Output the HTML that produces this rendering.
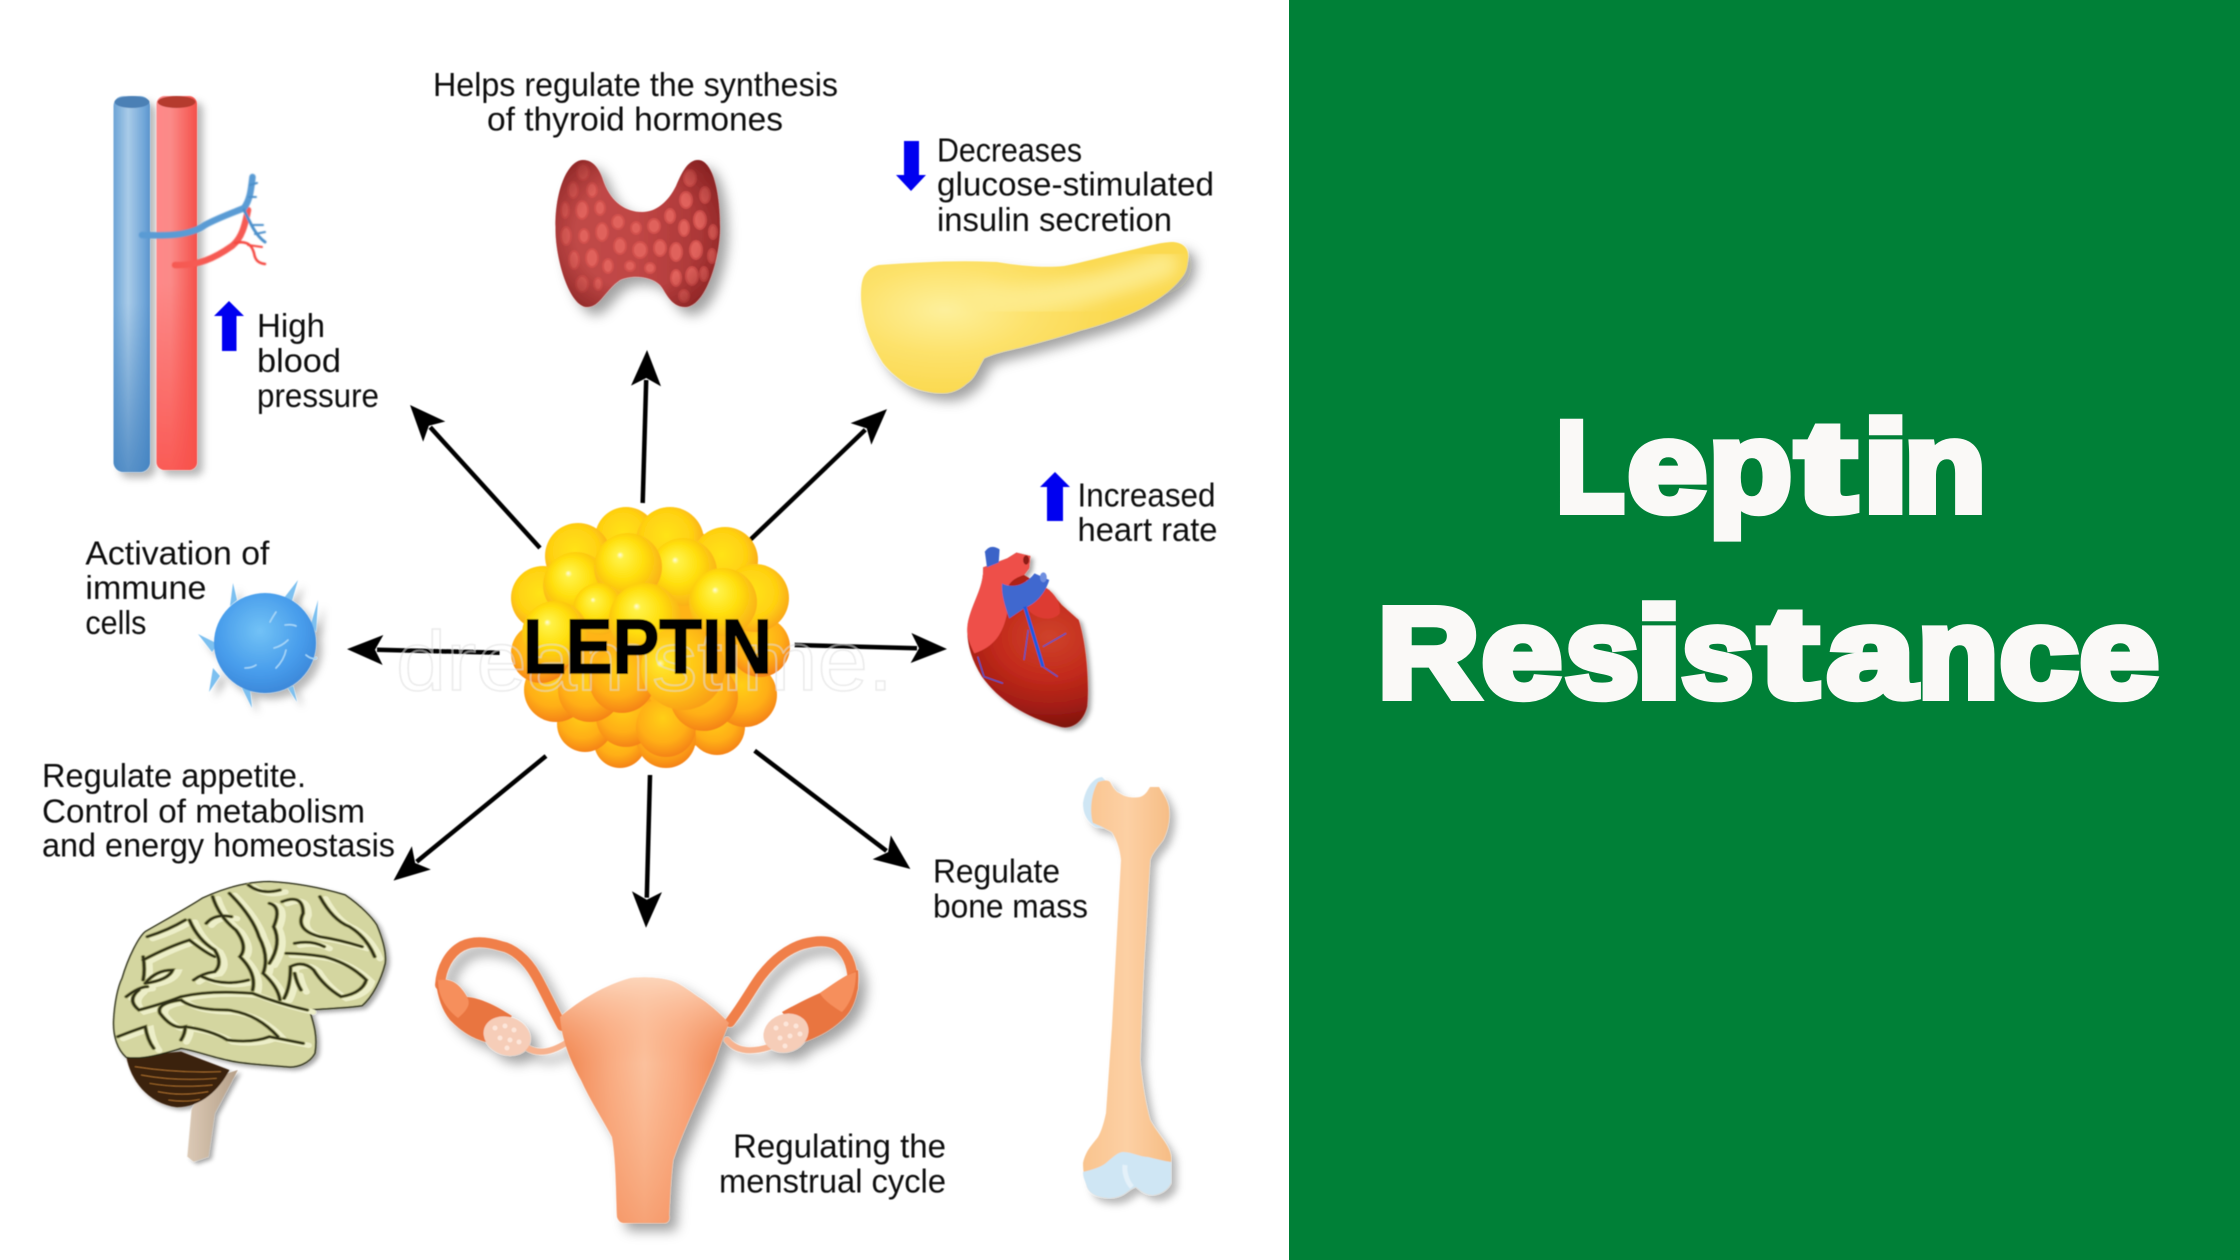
<!DOCTYPE html>
<html lang="en">
<head>
<meta charset="utf-8">
<title>Leptin Resistance</title>
<style>
html,body{margin:0;padding:0;background:#fff;width:2240px;height:1260px;overflow:hidden}
svg{display:block}
.t{font-family:"Liberation Sans",sans-serif;font-size:33px;fill:#111}
.h{font-family:"Liberation Sans",sans-serif;font-weight:700;font-size:128px;fill:#faf9f7;stroke:#faf9f7;stroke-width:8px;stroke-linejoin:miter}
</style>
</head>
<body>
<svg xmlns="http://www.w3.org/2000/svg" width="2240" height="1260" viewBox="0 0 2240 1260">
<defs>
  <filter id="all" filterUnits="userSpaceOnUse" x="0" y="0" width="1289" height="1260"><feGaussianBlur stdDeviation=".55"/></filter>
  <filter id="sh" x="-30%" y="-30%" width="170%" height="170%"><feDropShadow dx="8" dy="8" stdDeviation="6" flood-color="#000" flood-opacity=".36"/></filter>
  <filter id="shs" x="-30%" y="-30%" width="170%" height="170%"><feDropShadow dx="6" dy="6" stdDeviation="4" flood-color="#000" flood-opacity=".28"/></filter>
  <filter id="soft"><feGaussianBlur stdDeviation=".6"/></filter>
  <filter id="soft3" x="-30%" y="-30%" width="160%" height="160%"><feGaussianBlur stdDeviation="8"/></filter>
  <linearGradient id="vb" x1="0" x2="1" y1="0" y2="0"><stop offset="0" stop-color="#6ba3d6"/><stop offset=".4" stop-color="#a9cbe8"/><stop offset=".85" stop-color="#6fa5d8"/><stop offset="1" stop-color="#5b94cc"/></linearGradient>
  <linearGradient id="vbd" x1="0" x2="0" y1="0" y2="1"><stop offset=".55" stop-color="#3f7fbe" stop-opacity="0"/><stop offset="1" stop-color="#3f7fbe" stop-opacity=".75"/></linearGradient>
  <linearGradient id="vr" x1="0" x2="1" y1="0" y2="0"><stop offset="0" stop-color="#f88"/><stop offset=".35" stop-color="#fb8a88"/><stop offset=".85" stop-color="#f65e58"/><stop offset="1" stop-color="#f4504a"/></linearGradient>
  <linearGradient id="vrd" x1="0" x2="0" y1="0" y2="1"><stop offset=".5" stop-color="#f9504a" stop-opacity="0"/><stop offset="1" stop-color="#f9504a" stop-opacity=".8"/></linearGradient>
  <radialGradient id="gy" cx=".47" cy=".44" r=".6" fx=".38" fy=".32"><stop offset="0" stop-color="#fffce0"/><stop offset=".09" stop-color="#fff247"/><stop offset=".5" stop-color="#ffdf0e"/><stop offset="1" stop-color="#f9ab16"/></radialGradient>
  <radialGradient id="gy2" cx=".45" cy=".42" r=".62"><stop offset="0" stop-color="#ffe317"/><stop offset=".6" stop-color="#ffd111"/><stop offset="1" stop-color="#f9a116"/></radialGradient>
  <radialGradient id="go" cx=".45" cy=".35" r=".68"><stop offset="0" stop-color="#ffcf18"/><stop offset=".6" stop-color="#ffae14"/><stop offset="1" stop-color="#f47e18"/></radialGradient>
  <radialGradient id="gc" cx=".4" cy=".4" r=".62" fx=".22" fy=".45"><stop offset="0" stop-color="#fffbd0"/><stop offset=".08" stop-color="#ffe42a"/><stop offset=".6" stop-color="#ffc314"/><stop offset="1" stop-color="#f9a016"/></radialGradient>
  <radialGradient id="cell" cx=".45" cy=".38" r=".65"><stop offset="0" stop-color="#72c2f6"/><stop offset=".65" stop-color="#479ceb"/><stop offset="1" stop-color="#3b86d8"/></radialGradient>
  <radialGradient id="thyr" cx=".5" cy=".5" r=".62"><stop offset=".6" stop-color="#8a2020" stop-opacity="0"/><stop offset="1" stop-color="#7a1a1a" stop-opacity=".7"/></radialGradient>
  <linearGradient id="thyb" x1="0" x2="1" y1="0" y2="0"><stop offset="0" stop-color="#c04a48"/><stop offset=".5" stop-color="#c04645"/><stop offset="1" stop-color="#a53333"/></linearGradient>
  <radialGradient id="pan" gradientUnits="userSpaceOnUse" cx="945" cy="310" r="170" gradientTransform="translate(0 155) scale(1 .5)"><stop offset="0" stop-color="#fdf09c"/><stop offset=".5" stop-color="#fde26c"/><stop offset="1" stop-color="#fbd94f"/></radialGradient>
  <linearGradient id="ut" x1="0" x2="1" y1="0" y2="0"><stop offset="0" stop-color="#ee7f48"/><stop offset=".3" stop-color="#f9ae85"/><stop offset=".5" stop-color="#fbc7a5"/><stop offset=".72" stop-color="#f9ab82"/><stop offset="1" stop-color="#ec7a44"/></linearGradient>
  <linearGradient id="utv" x1="0" x2="0" y1="0" y2="1"><stop offset="0" stop-color="#fdd5ba"/><stop offset=".35" stop-color="#f99e6e" stop-opacity=".15"/><stop offset="1" stop-color="#f4854f" stop-opacity=".55"/></linearGradient>
  <radialGradient id="hrt" gradientUnits="userSpaceOnUse" cx="1400" cy="470" r="280"><stop offset="0" stop-color="#cf432b"/><stop offset=".45" stop-color="#c22a1b"/><stop offset=".75" stop-color="#a41e15"/><stop offset="1" stop-color="#7a110c"/></radialGradient>
  <linearGradient id="bone" x1="0" x2="1" y1="0" y2="0"><stop offset="0" stop-color="#f9c48e"/><stop offset=".5" stop-color="#fdd0a4"/><stop offset="1" stop-color="#f6bd85"/></linearGradient>
  <linearGradient id="stem" x1="0" x2="1" y1="0" y2="0"><stop offset="0" stop-color="#dccab6"/><stop offset="1" stop-color="#b59f88"/></linearGradient>
  <marker id="ah" markerUnits="userSpaceOnUse" viewBox="-2 -16 42 32" markerWidth="42" markerHeight="32" refX="6" refY="0" orient="auto"><path d="M0,-15 L36,0 L0,15 L8,0 Z" fill="#000"/></marker>
  <clipPath id="thc"><path d="M583,160 C594,160 600,170 604,183 C612,203 626,212 642,212 C656,212 668,202 676,186 C682,172 688,160 698,160 C712,160 720,190 720,227 C720,260 705,307 685,307 C670,307 665,290 660,285 C650,275 630,275 620,280 C605,290 600,307 587,307 C570,307 555,260 555.5,227 C555,190 568,160 583,160Z"/></clipPath>
  <g id="sulci">
    <path d="M505,170 Q520,230 560,270 Q590,320 570,350 Q610,400 600,450"/>
    <path d="M545,160 Q600,230 615,290 Q640,350 625,400 Q660,440 665,480"/>
    <path d="M450,240 Q470,300 510,330 Q530,370 510,395 Q480,400 460,420"/>
    <path d="M640,190 Q670,200 650,260 Q670,310 640,370"/>
    <path d="M670,185 Q720,160 720,220 Q700,270 760,290 Q810,300 860,320"/>
    <path d="M760,170 Q790,240 830,260 Q870,290 890,350"/>
    <path d="M680,340 Q720,340 770,350 Q830,370 870,420 Q860,460 810,470 Q770,440 745,390 Q720,360 690,380 Q690,440 675,475"/>
    <path d="M340,360 Q400,320 450,300 Q490,340 510,350"/>
    <path d="M350,290 Q400,270 440,240"/>
    <path d="M430,470 Q500,450 600,460 Q660,490 730,510"/>
    <path d="M330,450 Q300,480 330,510 Q390,490 430,470"/>
    <path d="M430,480 Q460,510 540,510 Q610,520 660,590"/>
    <path d="M440,560 Q500,570 540,600 Q600,610 640,590 Q680,600 720,610"/>
    <path d="M280,590 Q320,570 345,560 Q350,600 365,625"/>
    <path d="M345,430 Q370,390 410,390 Q400,420 345,430"/>
    <path d="M430,600 Q440,580 440,560 Q410,570 380,520 Q370,490 430,480"/>
    <path d="M590,135 Q620,165 665,150"/>
    <path d="M340,350 Q345,390 340,420 M300,470 Q330,440 350,440"/>
    <path d="M700,310 Q740,300 770,320 M700,400 Q705,430 715,450"/>
    <path d="M550,230 Q510,220 490,250"/>
    <path d="M480,410 Q530,440 590,420"/>
  </g>
</defs>

<rect width="2240" height="1260" fill="#fff"/>
<rect x="1289" y="0" width="951" height="1260" fill="#008037"/>

<g filter="url(#all)">
<!-- vessels -->
<g filter="url(#shs)">
  <rect x="113.5" y="96" width="36.5" height="376" rx="10" fill="url(#vb)"/>
  <rect x="113.5" y="96" width="36.5" height="376" rx="10" fill="url(#vbd)"/>
  <rect x="156.5" y="96" width="40.5" height="374" rx="8" fill="url(#vr)"/>
  <rect x="156.5" y="96" width="40.5" height="374" rx="8" fill="url(#vrd)"/>
</g>
<ellipse cx="132" cy="102" rx="17.5" ry="6" fill="#4c80b5"/>
<ellipse cx="176.5" cy="102" rx="19" ry="6" fill="#b53a2f"/>
<g fill="none" stroke-linecap="round" filter="url(#soft)">
  <path d="M175,265 C198,266 215,258 232,246 C242,238 245,225 248,210" stroke="#f65a52" stroke-width="6.5"/>
  <path d="M235,243 C248,240 252,246 254,253 C255,260 258,263 265,264" stroke="#f4473f" stroke-width="2.5"/>
  <path d="M248,245 L262,247" stroke="#f4473f" stroke-width="2"/>
  <path d="M142,235 C165,236 190,236 205,225 C220,217 235,212 244,208 C250,200 251,190 252.5,177" stroke="#5a9bd4" stroke-width="6.5"/>
  <path d="M244,210 C250,222 255,235 265,242" stroke="#4c8fca" stroke-width="3"/>
  <path d="M250,185 L257,183 M249,197 L256,197 M252,225 L263,225 M255,234 L265,232" stroke="#4c8fca" stroke-width="2"/>
</g>
<path d="M229,301 L244,316 L236.5,316 L236.5,351 L222,351 L222,316 L214,316 Z" fill="#0000f0"/>

<!-- thyroid -->
<path d="M583,160 C594,160 600,170 604,183 C612,203 626,212 642,212 C656,212 668,202 676,186 C682,172 688,160 698,160 C712,160 720,190 720,227 C720,260 705,307 685,307 C670,307 665,290 660,285 C650,275 630,275 620,280 C605,290 600,307 587,307 C570,307 555,260 555.5,227 C555,190 568,160 583,160Z" fill="url(#thyb)" filter="url(#sh)"/>
<g clip-path="url(#thc)" fill="#e0625c" stroke="#d2514e" stroke-width="2">
  <ellipse cx="583" cy="172" rx="6" ry="8"/><ellipse cx="573" cy="190" rx="5" ry="8"/><ellipse cx="592" cy="190" rx="5" ry="7"/><ellipse cx="565" cy="210" rx="4" ry="8"/>
  <ellipse cx="582" cy="210" rx="6" ry="9"/><ellipse cx="600" cy="208" rx="5" ry="7"/><ellipse cx="618" cy="222" rx="6" ry="7"/><ellipse cx="636" cy="228" rx="5" ry="6"/>
  <ellipse cx="654" cy="226" rx="6" ry="7"/><ellipse cx="670" cy="216" rx="5" ry="7"/><ellipse cx="690" cy="178" rx="6" ry="8"/><ellipse cx="705" cy="195" rx="5" ry="8"/>
  <ellipse cx="686" cy="200" rx="6" ry="8"/><ellipse cx="700" cy="220" rx="6" ry="9"/><ellipse cx="684" cy="228" rx="5" ry="8"/><ellipse cx="713" cy="232" rx="4" ry="7"/>
  <ellipse cx="566" cy="236" rx="5" ry="9"/><ellipse cx="584" cy="236" rx="5" ry="7"/><ellipse cx="602" cy="232" rx="6" ry="9"/><ellipse cx="620" cy="246" rx="6" ry="8"/>
  <ellipse cx="640" cy="250" rx="7" ry="8"/><ellipse cx="660" cy="248" rx="6" ry="8"/><ellipse cx="676" cy="252" rx="6" ry="9"/><ellipse cx="696" cy="250" rx="6" ry="9"/>
  <ellipse cx="712" cy="256" rx="4" ry="7"/><ellipse cx="574" cy="260" rx="5" ry="9"/><ellipse cx="592" cy="258" rx="6" ry="9"/><ellipse cx="608" cy="266" rx="5" ry="7"/>
  <ellipse cx="582" cy="284" rx="6" ry="8"/><ellipse cx="598" cy="284" rx="4" ry="6"/><ellipse cx="676" cy="278" rx="5" ry="8"/><ellipse cx="692" cy="276" rx="6" ry="9"/>
  <ellipse cx="684" cy="296" rx="5" ry="6"/><ellipse cx="704" cy="274" rx="4" ry="7"/><ellipse cx="630" cy="266" rx="5" ry="5"/><ellipse cx="650" cy="268" rx="5" ry="5"/>
</g>
<path d="M583,160 C594,160 600,170 604,183 C612,203 626,212 642,212 C656,212 668,202 676,186 C682,172 688,160 698,160 C712,160 720,190 720,227 C720,260 705,307 685,307 C670,307 665,290 660,285 C650,275 630,275 620,280 C605,290 600,307 587,307 C570,307 555,260 555.5,227 C555,190 568,160 583,160Z" fill="url(#thyr)"/>

<!-- pancreas -->
<path d="M879,265 C920,262 960,260 997,262 C1020,266 1045,268 1064,266 C1085,262 1105,256 1123,252 C1145,247 1160,242 1173.5,242 C1183,243 1189,248 1188,258 C1187,268 1186,272 1182,277 C1172,290 1160,298 1144,307 C1125,317 1100,325 1081,330 C1060,337 1040,342 1022,347 C1005,351 995,353 984,358 C978,368 975,378 967,383 C958,391 950,393 942,393 C930,393 918,390 908,385 C898,378 890,372 883,363 C875,350 870,340 866,327 C863,315 861,305 861,297 C861,285 862,278 866,273 C870,268 874,266 879,265Z" fill="url(#pan)" filter="url(#sh)"/>
<path d="M980,300 Q1060,305 1165,265" stroke="#fdeb8c" stroke-width="26" fill="none" stroke-linecap="round" filter="url(#soft3)"/>
<path d="M904,141 H919 V175 H926 L911,191 L896,175 H904 Z" fill="#0000f0"/>

<!-- heart -->
<g transform="translate(460 480) scale(.4209 .3333)">
  <g filter="url(#sh)">
    <path d="M1243,262 L1300,235 L1322,218 L1355,228 L1352,265 L1340,285 L1400,330 L1430,375 L1470,420 C1490,500 1495,620 1490,680 C1480,730 1450,750 1425,740 C1340,710 1280,660 1240,590 C1210,530 1200,470 1208,420 C1220,360 1245,320 1243,262Z" fill="url(#hrt)"/>
  </g>
  <path d="M1243,262 L1300,235 L1322,218 L1355,228 L1352,265 L1340,285 C1300,300 1290,330 1300,400 C1290,460 1270,500 1222,520 C1210,490 1200,460 1208,420 C1220,360 1245,320 1243,262Z" fill="#ee5048"/>
  <path d="M1345,300 C1390,310 1430,350 1425,400 C1410,425 1370,420 1350,390Z" fill="#dd3b30"/>
  <path d="M1247,215 Q1260,190 1282,208 L1280,248 L1252,262 Z" fill="#3a63c8"/>
  <path d="M1288,310 C1310,325 1340,320 1365,280 L1400,300 C1390,340 1370,370 1340,385 L1305,415 C1295,380 1285,340 1288,310Z" fill="#3f68cf"/>
  <ellipse cx="1345" cy="240" rx="7" ry="14" fill="#8c1a14"/>
  <ellipse cx="1386" cy="292" rx="8" ry="15" fill="#6f8fe0"/>
  <path d="M1342,380 L1385,560" stroke="#1f5ae0" stroke-width="3.5" fill="none" vector-effect="non-scaling-stroke"/>
  <path d="M1350,450 L1340,540 M1385,560 L1420,590 M1385,500 L1440,460 M1230,530 L1245,590 L1290,610" stroke="#3a5ad0" stroke-width="1.2" fill="none" vector-effect="non-scaling-stroke"/>
</g>
<path d="M1055,472 L1070,487 H1063 V521 H1047 V487 H1040 Z" fill="#0000f0"/>

<!-- immune cell -->
<g filter="url(#shs)">
  <g fill="#7cc0f0">
    <polygon points="230,606 233,583 237,600"/><polygon points="284,598 298,580 291,604"/>
    <polygon points="311,624 318,600 316,632"/><polygon points="212,652 198,634 218,644"/>
    <polygon points="213,668 209,692 220,676"/><polygon points="242,688 252,708 250,690"/>
    <polygon points="288,688 297,702 293,686"/>
  </g>
  <ellipse cx="265" cy="643" rx="51" ry="50" fill="url(#cell)"/>
</g>
<path d="M276,612 Q272,618 270,622 M285,625 Q292,624 296,626 M276,668 Q284,660 286,650 M274,648 Q282,646 288,640 M306,655 Q312,660 316,658 M245,668 Q252,668 256,665" stroke="#a5d6f8" stroke-width="1.6" fill="none" stroke-linecap="round"/>

<!-- arrows -->
<g stroke="#000" stroke-width="4.5" fill="none">
  <path d="M540,548 L430.2,427.2" marker-end="url(#ah)"/>
  <path d="M642.7,503 L646.2,380" marker-end="url(#ah)"/>
  <path d="M748,542 L865.3,429.8" marker-end="url(#ah)"/>
  <path d="M499.6,652.7 L377,649.8" marker-end="url(#ah)"/>
  <path d="M794.6,645 L917,648.2" marker-end="url(#ah)"/>
  <path d="M546,756 L416.7,861.7" marker-end="url(#ah)"/>
  <path d="M650,775 L646.8,897.7" marker-end="url(#ah)"/>
  <path d="M754.6,750.7 L886.5,850.9" marker-end="url(#ah)"/>
</g>

<!-- leptin cluster -->
<g>
  <ellipse cx="650" cy="638" rx="122" ry="116" fill="#ffb414"/>
  <circle cx="620" cy="742" r="26" fill="url(#go)"/>
  <circle cx="717" cy="727" r="28" fill="url(#go)"/>
  <circle cx="585" cy="724" r="28" fill="url(#go)"/>
  <circle cx="666" cy="738" r="30" fill="url(#go)"/>
  <circle cx="556" cy="690" r="32" fill="url(#go)"/>
  <circle cx="745" cy="695" r="32" fill="url(#go)"/>
  <circle cx="626" cy="717" r="30" fill="url(#go)"/>
  <circle cx="666" cy="727" r="30" fill="url(#go)"/>
  <circle cx="590" cy="690" r="32" fill="url(#go)"/>
  <circle cx="704" cy="697" r="34" fill="url(#go)"/>
  <circle cx="541" cy="653" r="30" fill="url(#go)"/>
  <circle cx="760" cy="647" r="30" fill="url(#go)"/>
  <circle cx="622" cy="680" r="33" fill="url(#go)"/>
  <circle cx="626" cy="538" r="31" fill="url(#gy2)"/>
  <circle cx="670" cy="541" r="34" fill="url(#gy2)"/>
  <circle cx="578" cy="556" r="33" fill="url(#gy2)"/>
  <circle cx="725" cy="560" r="33" fill="url(#gy2)"/>
  <circle cx="543" cy="598" r="32" fill="url(#gy2)"/>
  <circle cx="755" cy="598" r="34" fill="url(#gy2)"/>
  <circle cx="576" cy="585" r="33" fill="url(#gy)"/>
  <circle cx="683" cy="572" r="34" fill="url(#gy)"/>
  <circle cx="628" cy="567" r="34" fill="url(#gy)"/>
  <circle cx="599" cy="609" r="26" fill="url(#gy)"/>
  <circle cx="723" cy="602" r="34" fill="url(#gy)"/>
  <circle cx="645" cy="619" r="36" fill="url(#gy)"/>
  <circle cx="555" cy="634" r="33" fill="url(#gy)"/>
  <circle cx="683" cy="668" r="42" fill="url(#gc)"/>
</g>
<text x="396" y="690" textLength="497" lengthAdjust="spacingAndGlyphs" style="font-family:'Liberation Sans',sans-serif;font-size:84px;fill:none;stroke:#dedede;stroke-width:1.5px;opacity:.6">dreamstime.</text>
<text x="523" y="673" textLength="249" lengthAdjust="spacingAndGlyphs" style="font-family:'Liberation Sans',sans-serif;font-weight:700;font-size:77px;fill:#000;stroke:#000;stroke-width:1.5px">LEPTIN</text>

<!-- brain -->
<g transform="translate(0 840) scale(.4209 .3333)">
  <g filter="url(#sh)">
    <path d="M565,690 L510,820 L495,950 L460,965 L445,950 L455,810 L490,720Z" fill="url(#stem)"/>
    <path d="M300,650 L430,635 L545,690 C520,750 480,800 420,802 C350,790 310,720 300,650Z" fill="#3a200c"/>
    <path d="M270,540 C272,490 280,440 290,415 C305,350 330,290 345,275 C400,235 450,200 480,175 C540,140 590,125 640,125 C720,130 780,150 820,165 C860,200 885,235 895,255 C910,300 918,340 915,370 C905,420 885,470 860,497 C820,505 770,505 735,510 C745,550 755,590 748,640 C735,670 705,685 680,680 C630,675 570,670 540,660 C500,650 460,630 430,625 C390,640 340,660 300,652 C280,630 268,590 270,540Z" fill="#d4d6a0" stroke="#2c2e14" stroke-width="1.5" vector-effect="non-scaling-stroke"/>
  </g>
  <g fill="none" stroke="#eceec8" stroke-width="16" stroke-linecap="round" transform="translate(13 6)"><use href="#sulci"/></g>
  <g fill="none" stroke="#9a9c62" stroke-width="11" stroke-linecap="round"><use href="#sulci"/></g>
  <g fill="none" stroke="#2d2f14" stroke-width="6.5" stroke-linecap="round"><use href="#sulci"/></g>
  <g fill="none" stroke="#a56a2c" stroke-width="3">
    <path d="M320,680 Q420,700 525,695"/><path d="M335,705 Q420,725 515,715"/><path d="M355,730 Q420,745 505,735"/><path d="M375,755 Q430,770 495,755"/><path d="M400,780 Q440,788 475,778"/>
  </g>
</g>

<!-- uterus -->
<g filter="url(#sh)">
  <g fill="none" stroke-linecap="round">
    <path d="M562,1026 C550,1004 544,990 536,976 C526,958 512,948 501,946 C485,941 472,941 462,946 C449,953 441,968 440,985" stroke="#f07f48" stroke-width="10"/>
    <path d="M730,1022 C745,1002 752,988 761,976 C775,958 790,948 803,944 C818,940 830,940 838,946 C850,956 853,970 853,988" stroke="#f07f48" stroke-width="10"/>
    <path d="M526,1047 Q542,1058 566,1043" stroke="#f7b28e" stroke-width="6"/>
    <path d="M727,1040 Q740,1056 769,1047" stroke="#f7b28e" stroke-width="6"/>
  </g>
  <path d="M436,983 C438,998 442,1010 450,1020 C462,1032 472,1038 486,1042 L512,1016 C495,1005 480,998 467,997 C460,985 452,978 438,980Z" fill="#e9743f"/>
  <path d="M858,970 C860,995 852,1010 845,1017 C832,1030 820,1036 804,1042 L782,1012 C795,1005 808,998 820,993 C832,985 845,975 858,970Z" fill="#e9743f"/>
  <ellipse cx="507" cy="1036" rx="24" ry="19" fill="#f6cdb8" transform="rotate(20 507 1036)"/>
  <ellipse cx="786" cy="1033" rx="23" ry="19" fill="#f6cdb8" transform="rotate(-20 786 1033)"/>
  <path d="M631,978 C605,985 580,1000 560,1017 C562,1040 570,1060 581,1080 C590,1100 603,1120 612,1137 C616,1160 616,1195 617,1217 C619,1222 621,1223 625,1223 L664,1223 C668,1223 670,1220 669,1215 C670,1195 671,1175 673,1160 C685,1125 705,1085 715,1060 C720,1045 725,1032 729,1023 C718,1012 708,1003 698,997 C688,990 678,982 668,980 C655,977 643,977 631,978Z" fill="url(#ut)"/>
</g>
<path d="M631,978 C605,985 580,1000 560,1017 C562,1040 570,1060 581,1080 C590,1100 603,1120 612,1137 C616,1160 616,1195 617,1217 C619,1222 621,1223 625,1223 L664,1223 C668,1223 670,1220 669,1215 C670,1195 671,1175 673,1160 C685,1125 705,1085 715,1060 C720,1045 725,1032 729,1023 C718,1012 708,1003 698,997 C688,990 678,982 668,980 C655,977 643,977 631,978Z" fill="url(#utv)"/>
<path d="M438,980 C452,978 460,985 467,997 C472,1005 465,1012 458,1018 C445,1008 438,995 438,980Z" fill="#f68f5c"/>
<path d="M856,972 C856,990 850,1004 842,1012 C830,1005 822,998 820,993 C832,985 845,975 856,972Z" fill="#f68f5c"/>
<g fill="#fde6da">
  <circle cx="495" cy="1028" r="2.5"/><circle cx="505" cy="1026" r="2.5"/><circle cx="514" cy="1030" r="2.5"/><circle cx="500" cy="1038" r="2.5"/><circle cx="510" cy="1040" r="2.5"/><circle cx="519" cy="1042" r="2.5"/><circle cx="507" cy="1048" r="2.5"/>
  <circle cx="776" cy="1028" r="2.5"/><circle cx="786" cy="1024" r="2.5"/><circle cx="796" cy="1026" r="2.5"/><circle cx="780" cy="1038" r="2.5"/><circle cx="790" cy="1036" r="2.5"/><circle cx="800" cy="1034" r="2.5"/><circle cx="785" cy="1046" r="2.5"/>
</g>

<!-- bone -->
<g filter="url(#shs)">
  <path d="M1102,777 C1092,778 1085,790 1083,803 C1083,815 1088,822 1096,827 L1105,828 L1110,785 Z" fill="#cfe6f4"/>
  <path d="M1098,782 C1104,780 1108,780 1110,782 C1113,788 1116,792 1119,793 C1126,798 1134,798 1140,797 C1146,795 1148,790 1150,787 L1159,787 C1164,795 1169,803 1169,810 C1170,822 1167,832 1163,840 C1157,848 1152,853 1150,860 C1148,890 1146,930 1144,960 C1142,1000 1141,1030 1140,1060 C1142,1085 1146,1105 1150,1120 C1158,1135 1170,1145 1171,1157 L1171,1183 C1168,1190 1160,1195 1152,1195 C1145,1195 1140,1190 1136,1187 C1132,1188 1130,1190 1127,1192 C1122,1196 1116,1198 1110,1198 C1100,1198 1090,1195 1087,1187 C1085,1180 1083,1172 1083,1163 C1086,1150 1092,1145 1098,1137 C1102,1130 1104,1122 1106,1113 C1108,1085 1110,1055 1112,1027 C1115,970 1118,915 1121,860 C1120,848 1116,838 1112,832 C1105,828 1098,825 1093,823 C1090,815 1090,795 1098,782Z" fill="url(#bone)"/>
</g>
<path d="M1083,1172 C1090,1170 1100,1168 1106,1163 C1112,1158 1118,1152 1123,1152 C1132,1152 1140,1157 1148,1157 C1156,1159 1164,1161 1171,1162 L1171,1183 C1168,1190 1160,1195 1152,1195 C1145,1195 1140,1190 1136,1187 C1132,1188 1130,1190 1127,1192 C1122,1196 1116,1198 1110,1198 C1100,1198 1090,1195 1087,1187 C1085,1180 1083,1178 1083,1172Z" fill="#cfe6f4"/>
<path d="M1125,1165 C1124,1172 1127,1182 1132,1187" stroke="#e4f1f9" stroke-width="5" fill="none"/>

<!-- labels -->
<text class="t" x="257" y="337" textLength="68" lengthAdjust="spacingAndGlyphs">High</text>
<text class="t" x="257" y="372" textLength="84" lengthAdjust="spacingAndGlyphs">blood</text>
<text class="t" x="257" y="407" textLength="122" lengthAdjust="spacingAndGlyphs">pressure</text>
<text class="t" x="433" y="96" textLength="405" lengthAdjust="spacingAndGlyphs">Helps regulate the synthesis</text>
<text class="t" x="487" y="130.7" textLength="296" lengthAdjust="spacingAndGlyphs">of thyroid hormones</text>
<text class="t" x="937" y="161.7" textLength="145" lengthAdjust="spacingAndGlyphs">Decreases</text>
<text class="t" x="937" y="195.7" textLength="277" lengthAdjust="spacingAndGlyphs">glucose-stimulated</text>
<text class="t" x="937" y="231" textLength="235" lengthAdjust="spacingAndGlyphs">insulin secretion</text>
<text class="t" x="1077.5" y="506.7" textLength="138" lengthAdjust="spacingAndGlyphs">Increased</text>
<text class="t" x="1077.5" y="541" textLength="140" lengthAdjust="spacingAndGlyphs">heart rate</text>
<text class="t" x="85.4" y="564.3" textLength="184" lengthAdjust="spacingAndGlyphs">Activation of</text>
<text class="t" x="85.4" y="599" textLength="121" lengthAdjust="spacingAndGlyphs">immune</text>
<text class="t" x="85.4" y="634" textLength="61" lengthAdjust="spacingAndGlyphs">cells</text>
<text class="t" x="42" y="787" textLength="264" lengthAdjust="spacingAndGlyphs">Regulate appetite.</text>
<text class="t" x="42" y="822.3" textLength="323" lengthAdjust="spacingAndGlyphs">Control of metabolism</text>
<text class="t" x="42" y="856.7" textLength="353" lengthAdjust="spacingAndGlyphs">and energy homeostasis</text>
<text class="t" x="933" y="882.7" textLength="127" lengthAdjust="spacingAndGlyphs">Regulate</text>
<text class="t" x="933" y="917.3" textLength="155" lengthAdjust="spacingAndGlyphs">bone mass</text>
<text class="t" x="733" y="1157.7" textLength="213" lengthAdjust="spacingAndGlyphs">Regulating the</text>
<text class="t" x="719" y="1192.3" textLength="227" lengthAdjust="spacingAndGlyphs">menstrual cycle</text>
</g>

<!-- title -->
<text class="h" y="511"><tspan x="1556" textLength="68.4" lengthAdjust="spacingAndGlyphs">L</tspan><tspan x="1627.5" textLength="79.5" lengthAdjust="spacingAndGlyphs">e</tspan><tspan x="1708.5" textLength="83.5" lengthAdjust="spacingAndGlyphs">p</tspan><tspan x="1796" textLength="60" lengthAdjust="spacingAndGlyphs">t</tspan><tspan x="1862.5" textLength="46.5" lengthAdjust="spacingAndGlyphs">i</tspan><tspan x="1904" textLength="82" lengthAdjust="spacingAndGlyphs">n</tspan></text>
<text class="h" y="697"><tspan x="1377.5" textLength="102" lengthAdjust="spacingAndGlyphs">R</tspan><tspan x="1481.5" textLength="80.5" lengthAdjust="spacingAndGlyphs">e</tspan><tspan x="1565" textLength="74" lengthAdjust="spacingAndGlyphs">s</tspan><tspan x="1635.5" textLength="47" lengthAdjust="spacingAndGlyphs">i</tspan><tspan x="1681.5" textLength="72" lengthAdjust="spacingAndGlyphs">s</tspan><tspan x="1759" textLength="59" lengthAdjust="spacingAndGlyphs">t</tspan><tspan x="1827" textLength="88" lengthAdjust="spacingAndGlyphs">a</tspan><tspan x="1917.5" textLength="81" lengthAdjust="spacingAndGlyphs">n</tspan><tspan x="1999.5" textLength="79" lengthAdjust="spacingAndGlyphs">c</tspan><tspan x="2079.5" textLength="79.5" lengthAdjust="spacingAndGlyphs">e</tspan></text>
</svg>
</body>
</html>
